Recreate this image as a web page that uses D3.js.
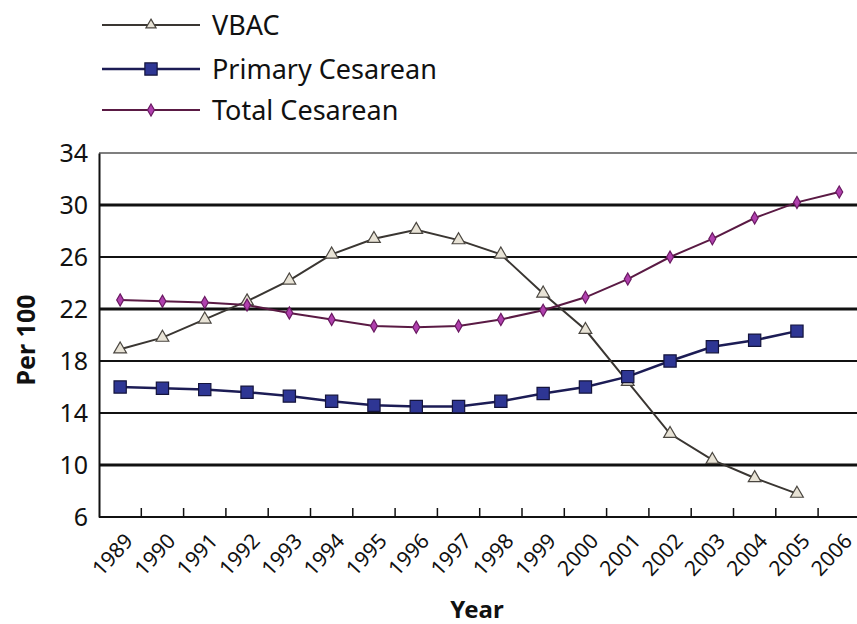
<!DOCTYPE html>
<html>
<head>
<meta charset="utf-8">
<script src="https://cdn.jsdelivr.net/npm/d3@7"></script>
<style>
  body { margin: 0; background: #fff; }
  svg { display: block; }
</style>
</head>
<body>
<script>
// data
var years = ['1989', '1990', '1991', '1992', '1993', '1994', '1995', '1996', '1997',
             '1998', '1999', '2000', '2001', '2002', '2003', '2004', '2005', '2006'];
var vbac = [18.9, 19.8, 21.2, 22.6, 24.2, 26.2, 27.4, 28.1, 27.3,
            26.2, 23.2, 20.4, 16.4, 12.4, 10.4, 9.0, 7.8, null];
var primary = [16.0, 15.9, 15.8, 15.6, 15.3, 14.9, 14.6, 14.5, 14.5,
               14.9, 15.5, 16.0, 16.8, 18.0, 19.1, 19.6, 20.3, null];
var total = [22.7, 22.6, 22.5, 22.3, 21.7, 21.2, 20.7, 20.6, 20.7,
             21.2, 21.9, 22.9, 24.3, 26.0, 27.4, 29.0, 30.2, 31.0];
var yTicks = [6, 10, 14, 18, 22, 26, 30, 34];

var W = 857, H = 624;
var plotL = 99, plotT = 153, plotB = 517, plotR = 99 + 18 * 42.3;

var svg = d3.select('body').append('svg')
  .attr('width', W)
  .attr('height', H)
  .style('font-family', '"Noto Sans", sans-serif');

var x = d3.scaleBand().domain(years).range([plotL, plotR]);
var y = d3.scaleLinear().domain([6, 34]).range([plotB, plotT]);

// gridlines
var heavy = {30: 3, 22: 3, 10: 3, 34: 1.5};
svg.append('g').selectAll('line')
  .data(yTicks.filter(function(d){ return d > 6; }))
  .enter().append('line')
    .attr('x1', plotL).attr('x2', W)
    .attr('y1', function(d){ return y(d); })
    .attr('y2', function(d){ return y(d); })
    .style('stroke', function(d){ return d === 34 ? '#555' : '#111'; })
    .style('stroke-width', function(d){ return heavy[d] || 2; });

// y axis
var yAxis = svg.append('g')
  .attr('transform', 'translate(' + plotL + ',0)')
  .call(d3.axisLeft(y).tickValues(yTicks).tickSize(0).tickPadding(11));
yAxis.select('.domain').style('stroke', '#111').style('stroke-width', 2);
yAxis.selectAll('text')
  .style('font-family', '"Noto Sans", sans-serif')
  .style('font-size', '25px')
  .style('fill', '#111');

// x axis, ticks between categories pointing up
var xAxis = svg.append('g')
  .attr('transform', 'translate(0,' + plotB + ')');
xAxis.append('line')
  .attr('x1', plotL).attr('x2', W)
  .style('stroke', '#111').style('stroke-width', 2);
xAxis.selectAll('line.tick')
  .data(years.slice(1))
  .enter().append('line')
    .attr('class', 'tick')
    .attr('x1', function(d){ return x(d); })
    .attr('x2', function(d){ return x(d); })
    .attr('y1', 0).attr('y2', -9)
    .style('stroke', '#111').style('stroke-width', 1.5);
xAxis.selectAll('text')
  .data(years)
  .enter().append('text')
    .attr('transform', function(d){
      return 'translate(' + (x(d) + x.bandwidth() - 7) + ',' + 25 + ') rotate(-47)';
    })
    .style('text-anchor', 'end')
    .style('font-size', '21px')
    .style('fill', '#111')
    .text(function(d){ return d; });

// axis titles
svg.append('text')
  .attr('transform', 'translate(35,' + 340 + ') rotate(-90)')
  .style('text-anchor', 'middle')
  .style('font-size', '25px')
  .style('font-weight', 'bold')
  .style('fill', '#111')
  .text('Per 100');

svg.append('text')
  .attr('x', 477).attr('y', 618)
  .style('text-anchor', 'middle')
  .style('font-size', '24px')
  .style('font-weight', 'bold')
  .style('fill', '#111')
  .text('Year');

// series
var series = [
  {name: 'VBAC', values: vbac, line: '#3a3632', lw: 2, shape: d3.symbolTriangle, size: 70,
   fill: '#e8e3d6', stroke: '#4a4640'},
  {name: 'Primary Cesarean', values: primary, line: '#1c1c55', lw: 2.5, shape: d3.symbolSquare, size: 150,
   fill: '#2e3694', stroke: '#14143c'},
  {name: 'Total Cesarean', values: total, line: '#5a1a44', lw: 2, shape: d3.symbolDiamond, size: 42,
   fill: '#b040ae', stroke: '#6a1a62'}
];

var cx = function(i){ return x(years[i]) + x.bandwidth() / 2; };

var line = d3.line()
  .defined(function(d){ return d != null; })
  .x(function(d, i){ return cx(i); })
  .y(function(d){ return y(d); });

svg.append('g').selectAll('path')
  .data(series)
  .enter().append('path')
    .attr('d', function(s){ return line(s.values); })
    .style('fill', 'none')
    .style('stroke', function(s){ return s.line; })
    .style('stroke-width', function(s){ return s.lw; });

series.forEach(function(s){
  var pts = s.values
    .map(function(v, i){ return {v: v, i: i}; })
    .filter(function(p){ return p.v != null; });
  svg.append('g').selectAll('path')
    .data(pts)
    .enter().append('path')
      .attr('transform', function(p){ return 'translate(' + cx(p.i) + ',' + y(p.v) + ')'; })
      .attr('d', d3.symbol().type(s.shape).size(s.size))
      .style('fill', s.fill)
      .style('stroke', s.stroke)
      .style('stroke-width', 1.2);
});

// legend
var legend = svg.append('g');
var legendY = [25, 69, 110];
series.forEach(function(s, i){
  var g = legend.append('g').attr('transform', 'translate(0,' + legendY[i] + ')');
  g.append('line')
    .attr('x1', 102).attr('x2', 200)
    .style('stroke', s.line).style('stroke-width', s.lw);
  g.append('path')
    .attr('transform', 'translate(151,0)')
    .attr('d', d3.symbol().type(s.shape).size(i === 0 ? 45 : s.size))
    .style('fill', s.fill)
    .style('stroke', s.stroke)
    .style('stroke-width', 1.2);
  g.append('text')
    .attr('x', 212).attr('y', 10)
    .style('font-size', '27px')
    .style('fill', '#111')
    .text(s.name);
});
</script>
</body>
</html>
